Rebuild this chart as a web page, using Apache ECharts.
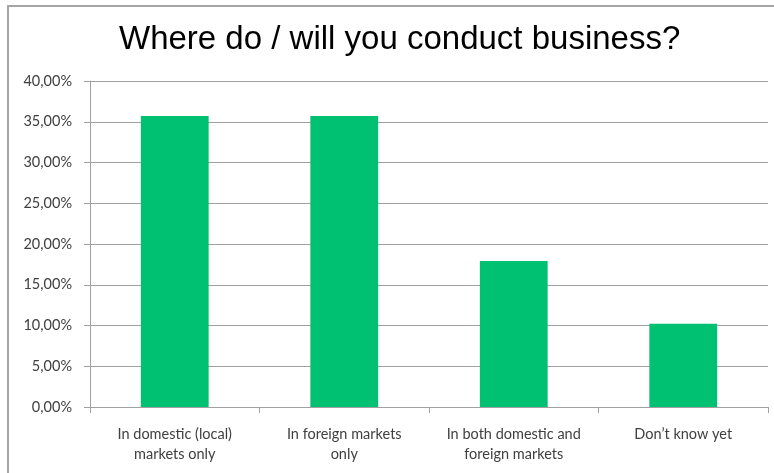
<!DOCTYPE html>
<html>
<head>
<meta charset="utf-8">
<script src="https://cdn.jsdelivr.net/npm/echarts@6/dist/echarts.min.js"></script>
<style>
  html, body { margin: 0; padding: 0; background: #fff; }
  #chart { width: 774px; height: 473px; }
</style>
</head>
<body>
<div id="chart"></div>
<script>
// Survey answers: where respondents do / will conduct business
const categories = [
  'In domestic (local)\nmarkets only',
  'In foreign markets\nonly',
  'In both domestic and\nforeign markets',
  'Don\u2019t know yet'
];
const shares = [35.7, 35.7, 17.9, 10.2];   // percent of respondents
const yTicks = { min: 0, max: 40, step: 5 };

const chart = echarts.init(document.getElementById('chart'));
chart.setOption({
  animation: false,
  backgroundColor: '#ffffff',
  title: {
    text: 'Where do / will you conduct business?',
    left: 114,
    top: 18,
    textStyle: {
      fontFamily: 'Liberation Sans',
      fontSize: 33,
      fontWeight: 'normal',
      color: '#000000'
    }
  },
  graphic: [{
    type: 'polyline',
    shape: { points: [[8, 473], [8, 6], [774, 6]] },
    style: { stroke: '#a6a6a6', lineWidth: 2, fill: null },
    silent: true
  }],
  grid: { left: 90, right: 6, top: 81, bottom: 66 },
  xAxis: {
    type: 'category',
    data: categories,
    axisLine: { lineStyle: { color: '#a0a0a0', width: 1 } },
    axisTick: { show: true, length: 6, alignWithLabel: false, lineStyle: { color: '#a0a0a0' } },
    axisLabel: {
      interval: 0,
      margin: 17,
      lineHeight: 20,
      fontFamily: 'Lato',
      fontSize: 14.5,
      color: '#404040'
    }
  },
  yAxis: {
    type: 'value',
    min: yTicks.min,
    max: yTicks.max,
    interval: yTicks.step,
    axisLine: { show: true, lineStyle: { color: '#a0a0a0', width: 1 } },
    axisTick: { show: true, length: 6, lineStyle: { color: '#a0a0a0' } },
    splitLine: { lineStyle: { color: '#a0a0a0', width: 1 } },
    axisLabel: {
      margin: 18,
      fontFamily: 'Lato',
      fontSize: 14.5,
      color: '#404040',
      formatter: v => v.toFixed(2).replace('.', ',') + '%'
    }
  },
  series: [{
    type: 'bar',
    data: shares,
    barCategoryGap: '60%',
    itemStyle: { color: '#00C072' }
  }]
});
</script>
</body>
</html>
